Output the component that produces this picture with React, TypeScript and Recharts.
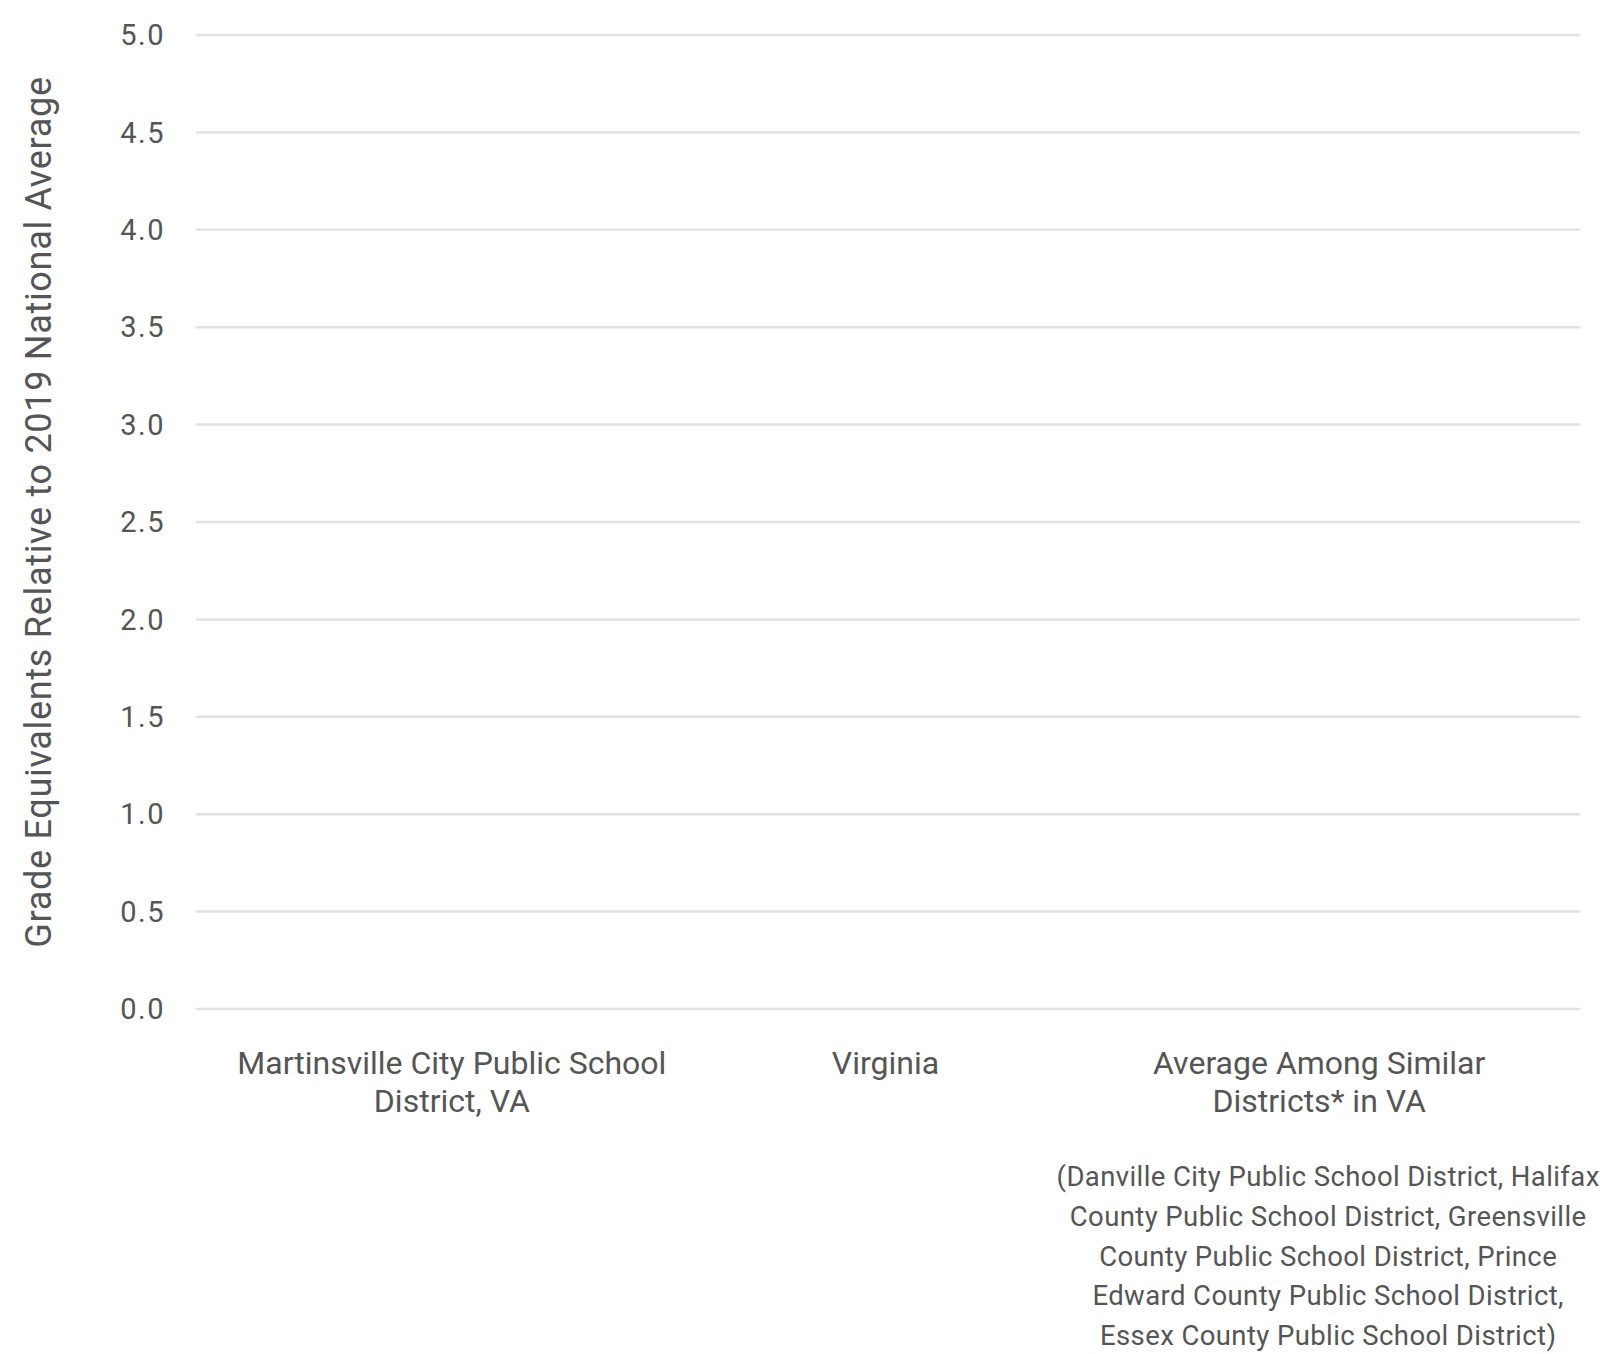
import { BarChart, Bar, XAxis, YAxis, CartesianGrid, Label } from "recharts";

const categories = [
  ["Martinsville City Public School", "District, VA"],
  ["Virginia"],
  ["Average Among Similar", "Districts* in VA"],
];

// no values are shown in the reference, the bars are empty
const values: (number | null)[] = [null, null, null];

const yTicks = [0, 0.5, 1, 1.5, 2, 2.5, 3, 3.5, 4, 4.5, 5];

const footnote = [
  "(Danville City Public School District, Halifax",
  "County Public School District, Greensville",
  "County Public School District, Prince",
  "Edward County Public School District,",
  "Essex County Public School District)",
];

const data = categories.map((lines, i) => ({
  name: lines.join(" "),
  value: values[i],
}));

const FONT = "Roboto, 'Noto Sans', sans-serif";
const TEXT = "#555555";

function CategoryTick(props: any) {
  const { x, y, index } = props;
  const lines = categories[index] || [];
  return (
    <g>
      <text
        x={x}
        y={y}
        textAnchor="middle"
        fill={TEXT}
        fontSize={32}
        fontFamily={FONT}
      >
        {lines.map((l, i) => (
          <tspan key={i} x={x} dy={i === 0 ? 57 : 38}>
            {l}
          </tspan>
        ))}
      </text>
      {index === 2 && (
        <text
          x={x + 9}
          y={y}
          textAnchor="middle"
          fill={TEXT}
          fontSize={27.5}
          fontFamily={FONT}
          letterSpacing={0.4}
        >
          {footnote.map((l, i) => (
            <tspan key={i} x={x + 9} dy={i === 0 ? 169 : 39.8}>
              {l}
            </tspan>
          ))}
        </text>
      )}
    </g>
  );
}

export default function App() {
  return (
    <div style={{ position: "absolute", left: 0, top: 0, background: "#fff" }}>
      <BarChart
        width={1600}
        height={1354}
        data={data}
        margin={{ top: 35, right: 20, bottom: 0, left: 0 }}
      >
        <CartesianGrid vertical={false} stroke="#e2e2e2" strokeWidth={2.5} />
        <XAxis
          dataKey="name"
          axisLine={false}
          tickLine={false}
          height={345}
          interval={0}
          padding={{ left: 39, right: 44 }}
          tick={<CategoryTick />}
        />
        <YAxis
          type="number"
          domain={[0, 5]}
          allowDataOverflow
          ticks={yTicks}
          interval={0}
          width={196}
          axisLine={false}
          tickLine={false}
          tickSize={0}
          tickMargin={31}
          tickFormatter={(v: number) => v.toFixed(1)}
          tick={{ fill: TEXT, fontSize: 29, fontFamily: FONT, letterSpacing: 1.5 }}
        >
          <Label
            value="Grade Equivalents Relative to 2019 National Average"
            angle={-90}
            position="insideLeft"
            offset={38}
            dy={-10}
            style={{
              textAnchor: "middle",
              fill: TEXT,
              fontSize: 36,
              fontFamily: FONT,
              letterSpacing: 0.7,
            }}
          />
        </YAxis>
        <Bar dataKey="value" fill="#4c78a8" isAnimationActive={false} />
      </BarChart>
    </div>
  );
}
